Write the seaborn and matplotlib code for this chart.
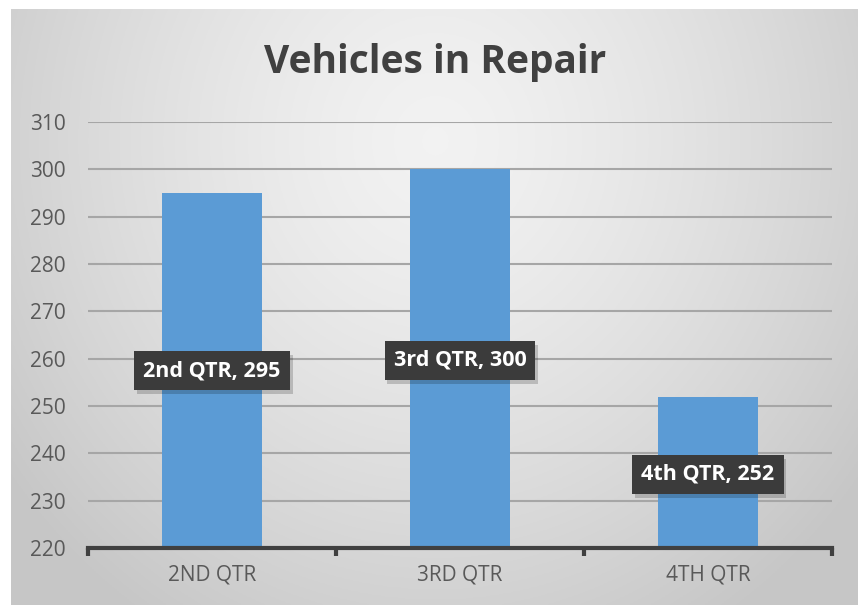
import numpy as np
import pandas as pd
import matplotlib
matplotlib.use("Agg")
import matplotlib.pyplot as plt
import matplotlib.patheffects as pe
import seaborn as sns

# Veriler
quarters = ["2ND QTR", "3RD QTR", "4TH QTR"]
vehicles = [295, 300, 252]
label_texts = ["2nd QTR, 295", "3rd QTR, 300", "4th QTR, 252"]
label_y = [257.5, 259.7, 235.6]   # etiketlerin elle kaydırılmış konumları
y_ticks = list(range(220, 311, 10))

sns.set_style("white")
plt.rcParams["font.family"] = ["Open Sans", "DejaVu Sans"]

fig = plt.figure(figsize=(8.58, 6.05), dpi=100)
fig.patch.set_facecolor("white")

# Arka plan: radyal gri gradyan
bg = fig.add_axes([11 / 858, 0, 1 - 11 / 858, 1 - 9 / 605])
h, w = 300, 430
yy, xx = np.mgrid[0:h, 0:w]
dx = (xx - w * 0.5) / (w * 0.62)
dy = (yy - h * 0.22) / (h * 0.95)
r = np.clip(np.sqrt(dx ** 2 + dy ** 2), 0, 1)
shade = 0.95 - 0.17 * r ** 1.4
bg.imshow(np.dstack([shade] * 3), aspect="auto", extent=[0, 1, 0, 1], origin="upper")
bg.axis("off")

ax = fig.add_axes([88 / 858, (605 - 548) / 605, (832 - 88) / 858, (548 - 122) / 605])
ax.patch.set_alpha(0)

df = pd.DataFrame({"quarter": quarters, "vehicles": vehicles})
sns.barplot(data=df, x="quarter", y="vehicles", color="#5B9BD5", saturation=1,
            width=0.4, ax=ax, zorder=3, edgecolor="none", linewidth=0)

ax.set_ylim(220, 310)
ax.set_xlim(-0.5, 2.5)
ax.set_yticks(y_ticks)
ax.yaxis.grid(True, color="#a6a6a6", linewidth=1.5, zorder=0)
ax.set_axisbelow(True)
for s in ["top", "right", "left"]:
    ax.spines[s].set_visible(False)
ax.spines["bottom"].set_color("#404040")
ax.spines["bottom"].set_linewidth(3)
ax.spines["bottom"].set_zorder(5)

ax.set_xlabel("")
ax.set_ylabel("")
ax.tick_params(axis="y", length=0, pad=16, labelsize=15, labelcolor="#595959")
ax.tick_params(axis="x", which="major", length=0, pad=12, labelsize=15, labelcolor="#595959")
ax.set_xticks([-0.5, 0.5, 1.5, 2.5], minor=True)
ax.tick_params(axis="x", which="minor", bottom=True, length=6, width=3,
               color="#404040", direction="out")

# Veri etiketleri (hafif gölgeli koyu kutular)
for i, (txt, ly) in enumerate(zip(label_texts, label_y)):
    t = ax.text(i, ly, txt, ha="center", va="center", color="white", fontsize=15.5,
                fontweight="bold", zorder=6,
                bbox=dict(boxstyle="square,pad=0.42", facecolor="#3b3b3b", edgecolor="none"))
    t.get_bbox_patch().set_path_effects(
        [pe.SimplePatchShadow(offset=(2, -3), shadow_rgbFace="black", alpha=0.18), pe.Normal()])

fig.text(435 / 858, 1 - 62 / 605, "Vehicles in Repair", ha="center", va="center",
         fontsize=28, fontweight="bold", color="#404040")

plt.savefig("out.png", dpi=100)
plt.close()
